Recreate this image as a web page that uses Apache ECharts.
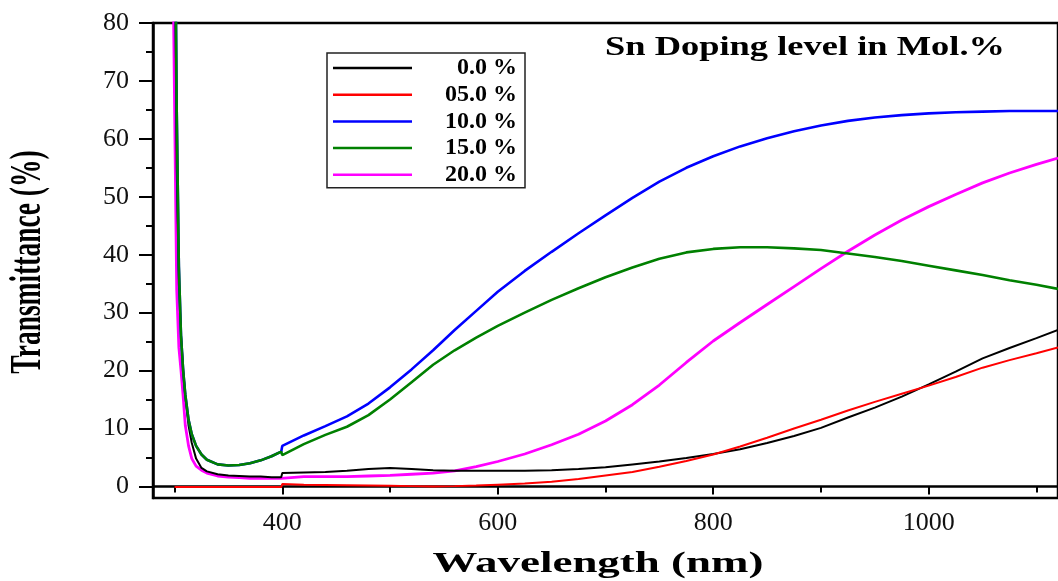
<!DOCTYPE html>
<html>
<head>
<meta charset="utf-8">
<script src="https://cdn.jsdelivr.net/npm/echarts@6/dist/echarts.min.js"></script>
<style>html,body{margin:0;padding:0;background:#fff}#c{width:1058px;height:581px}</style>
</head>
<body>
<div id="c"></div>
<script>
// Wavelength grid (nm)
const wavelength = [298,300,302,304,306,308,310,313,316,320,325,330,340,350,360,370,380,390,399,400,420,440,460,480,500,520,540,560,580,600,625,650,675,700,725,750,775,800,825,850,875,900,925,950,975,1000,1025,1050,1075,1100,1120];

// Transmittance (%) per Sn doping level
const t00 = [null,100,55,35,26,20,15.5,10.5,7.5,4.8,3.2,2.6,2.1,1.9,1.8,1.7,1.7,1.6,1.6,2.3,2.4,2.5,2.7,3.0,3.2,3.0,2.8,2.7,2.7,2.7,2.7,2.8,3.0,3.3,3.8,4.3,4.9,5.6,6.4,7.5,8.7,10.1,11.9,13.6,15.5,17.6,19.8,22.1,23.9,25.6,27.0];
const t05 = [null,-0.1,-0.1,-0.1,-0.1,-0.1,-0.1,-0.1,-0.1,-0.1,-0.1,-0.1,-0.1,-0.1,-0.1,-0.1,-0.1,-0.1,-0.1,0.4,0.3,0.25,0.2,0.15,0.1,0.05,0.0,0.05,0.15,0.3,0.5,0.8,1.3,1.9,2.5,3.4,4.4,5.5,6.9,8.4,10.0,11.5,13.1,14.6,16.0,17.4,18.9,20.5,21.8,23.0,24.0];
const t10 = [null,110,65,38,26,20,15.8,11.5,9.0,7.0,5.5,4.6,3.8,3.6,3.7,4.0,4.5,5.2,6.0,7.0,8.8,10.4,12.1,14.3,17.1,20.2,23.5,27.0,30.3,33.6,37.2,40.5,43.7,46.8,49.8,52.6,55.0,57.0,58.7,60.1,61.3,62.3,63.1,63.7,64.1,64.4,64.6,64.7,64.8,64.8,64.8];
const t15 = [null,110,65,38,26,20,15.8,11.5,9.0,7.0,5.5,4.6,3.8,3.6,3.7,4.0,4.5,5.2,6.0,5.4,7.3,8.9,10.3,12.3,15.0,18.0,21.0,23.5,25.7,27.7,30.0,32.2,34.2,36.1,37.8,39.3,40.4,41.0,41.3,41.3,41.1,40.8,40.2,39.6,38.9,38.1,37.3,36.5,35.6,34.8,34.1];
const t20 = [100,66,34,24,20,15.5,10.5,7.0,4.8,3.5,2.8,2.3,1.8,1.6,1.5,1.4,1.4,1.4,1.4,1.7,1.7,1.7,1.7,1.8,1.9,2.1,2.3,2.7,3.4,4.3,5.6,7.2,9.0,11.3,14.1,17.5,21.4,25.1,28.3,31.4,34.5,37.6,40.6,43.4,46.0,48.3,50.4,52.4,54.1,55.6,56.7];

const seriesNames = ['0.0 %','05.0 %','10.0 %','15.0 %','20.0 %'];
const seriesColors = ['#000000','#ff0000','#0000ff','#008000','#ff00ff'];
const seriesValues = [t00,t05,t10,t15,t20];

const xLabelTicks = [400,600,800,1000];
const xMinorTicks = [300,500,700,900,1100];
const yLabelTicks = [0,10,20,30,40,50,60,70,80];
const yMinorTicks = [5,15,25,35,45,55,65,75];

const SERIF = '"Liberation Serif","Times New Roman",serif';

function pts(vals){
  return wavelength.map((w,i)=>[w, vals[i]]).filter(p=>p[1]!==null);
}

// draw order: magenta, black, red, blue, green (green on top of blue)
const drawOrder = [4,0,1,2,3];
const widths = [2,2,2.6,2.6,2.8];
const series = drawOrder.map(i=>({
  name: seriesNames[i],
  type: 'line',
  data: pts(seriesValues[i]),
  showSymbol: false,
  symbol: 'none',
  lineStyle: {color: seriesColors[i], width: widths[i]},
  itemStyle: {color: seriesColors[i]},
  color: seriesColors[i],
  clip: true,
  z: 2
}));

const plain = v => String(v);

const chart = echarts.init(document.getElementById('c'), null, {renderer:'canvas'});
chart.setOption({
  animation: false,
  backgroundColor: '#fff',
  grid: {left:153, top:23, width:927, height:475, show:true, borderColor:'#000', borderWidth:2.5, backgroundColor:'transparent'},
  xAxis: [
    {type:'value', min:280, max:1120, position:'bottom',
     axisLine:{show:true, lineStyle:{color:'#000', width:2.5}},
     axisTick:{show:true, customValues:xLabelTicks, length:8, inside:false, lineStyle:{color:'#000', width:2}},
     axisLabel:{show:true, customValues:xLabelTicks, formatter:plain, margin:12, color:'#111', fontFamily:SERIF, fontSize:26},
     splitLine:{show:false}},
    {type:'value', min:280, max:1120, position:'bottom',
     axisLine:{show:false},
     axisTick:{show:true, customValues:xMinorTicks, length:6, lineStyle:{color:'#000', width:2}},
     axisLabel:{show:false}, splitLine:{show:false}}
  ],
  yAxis: [
    {type:'value', min:-2, max:80, position:'left',
     axisLine:{show:true, lineStyle:{color:'#000', width:2.5}},
     axisTick:{show:true, customValues:yLabelTicks, length:14, lineStyle:{color:'#000', width:2}},
     axisLabel:{show:true, customValues:yLabelTicks, formatter:plain, margin:24, color:'#111', fontFamily:SERIF, fontSize:26},
     splitLine:{show:false}},
    {type:'value', min:-2, max:80, position:'left',
     axisLine:{show:false},
     axisTick:{show:true, customValues:yMinorTicks, length:7, lineStyle:{color:'#000', width:2}},
     axisLabel:{show:false}, splitLine:{show:false}}
  ],
  legend: {
    data: seriesNames,
    orient: 'vertical',
    left: 327, top: 53,
    padding: [3, 8, 1, 6],
    itemGap: 2.7,
    itemWidth: 79, itemHeight: 2.5,
    icon: 'rect',
    borderColor: '#222', borderWidth: 1.5,
    backgroundColor: '#fff',
    selectedMode: false,
    formatter: n => '{r|' + n + '}',
    textStyle: {
      color:'#000', fontFamily:SERIF, fontWeight:'bold', fontSize:24, lineHeight:24,
      rich: {r: {width:100, align:'right', lineHeight:24, color:'#000', fontFamily:SERIF, fontWeight:'bold', fontSize:24}}
    }
  },
  graphic: [
    {type:'text', x:605, y:48, scaleX:1.35, z:10,
     style:{text:'Sn Doping level in Mol.%', fill:'#000', fontFamily:SERIF, fontWeight:'bold', fontSize:27, textAlign:'left', textVerticalAlign:'middle'}},
    {type:'text', x:598, y:565, scaleX:1.55, z:10,
     style:{text:'Wavelength (nm)', fill:'#000', fontFamily:SERIF, fontWeight:'bold', fontSize:29, textAlign:'center', textVerticalAlign:'middle'}},
    {type:'text', x:29, y:262, rotation:Math.PI/2, scaleY:1.6, z:10,
     style:{text:'Transmittance (%)', fill:'#000', fontFamily:SERIF, fontWeight:'bold', fontSize:27.5, textAlign:'center', textVerticalAlign:'middle'}}
  ],
  series: series
});
</script>
</body>
</html>
